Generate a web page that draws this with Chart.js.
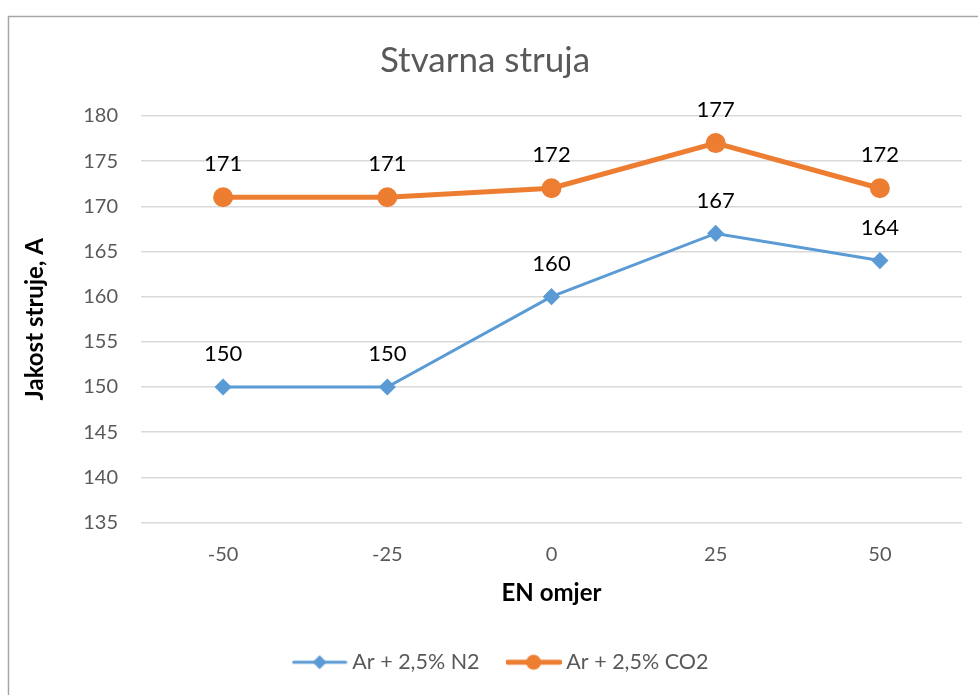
<!DOCTYPE html>
<html>
<head>
<meta charset="utf-8">
<script src="https://cdn.jsdelivr.net/npm/chart.js@4"></script>
<style>
  html, body { margin: 0; padding: 0; background: #fff; }
  #wrap { width: 978px; height: 695px; position: relative; }
</style>
</head>
<body>
<div id="wrap"><canvas id="chart"></canvas></div>
<script>
const categories = ['-50', '-25', '0', '25', '50'];
const n2Values = [150, 150, 160, 167, 164];
const co2Values = [171, 171, 172, 177, 172];
const yTicks = [135, 140, 145, 150, 155, 160, 165, 170, 175, 180];

const BLUE = '#5B9BD5';
const ORANGE = '#ED7D31';
const FONT = 'Lato, sans-serif';

// legend swatch: short line with the marker in the middle, like Excel
const makeSwatch = (color, lineW, marker) => {
  const c = document.createElement('canvas');
  c.width = 56; c.height = 20;
  const g = c.getContext('2d');
  g.strokeStyle = color;
  g.lineWidth = lineW;
  g.lineCap = 'round';
  g.beginPath(); g.moveTo(2, 10); g.lineTo(54, 10); g.stroke();
  g.fillStyle = color;
  g.beginPath();
  if (marker === 'diamond') {
    g.moveTo(28, 3); g.lineTo(35, 10); g.lineTo(28, 17); g.lineTo(21, 10);
  } else {
    g.arc(28, 10, 7.5, 0, Math.PI * 2);
  }
  g.closePath(); g.fill();
  return c;
};
const swatches = [makeSwatch(BLUE, 3, 'diamond'), makeSwatch(ORANGE, 5, 'circle')];

// frame of the chart object (only top and left edge are visible in the crop)
const framePlugin = {
  id: 'frame',
  beforeDraw(chart) {
    const ctx = chart.ctx;
    ctx.save();
    ctx.strokeStyle = '#A6A6A6';
    ctx.lineWidth = 1.5;
    ctx.beginPath();
    ctx.moveTo(978, 16.5);
    ctx.lineTo(8.5, 16.5);
    ctx.lineTo(8.5, 695);
    ctx.stroke();
    ctx.restore();
  },
  // excel centres the legend a bit to the right of the plot
  afterLayout(chart) {
    chart.legend.left += 36;
  }
};

// value labels above each point
const labelPlugin = {
  id: 'valueLabels',
  afterDatasetsDraw(chart) {
    const ctx = chart.ctx;
    ctx.save();
    ctx.font = '22px ' + FONT;
    ctx.fillStyle = '#000';
    ctx.textAlign = 'center';
    ctx.textBaseline = 'middle';
    chart.data.datasets.forEach((ds, i) => {
      chart.getDatasetMeta(i).data.forEach((pt, j) => {
        ctx.fillText(String(ds.data[j]), pt.x, pt.y - 33);
      });
    });
    ctx.restore();
  }
};

new Chart(document.getElementById('chart'), {
  type: 'line',
  data: {
    labels: categories,
    datasets: [
      {
        label: 'Ar + 2,5% N2',
        data: n2Values,
        borderColor: BLUE,
        backgroundColor: BLUE,
        borderWidth: 3,
        pointStyle: 'rectRot',
        pointRadius: 6.5,
        pointHoverRadius: 6.5,
        tension: 0
      },
      {
        label: 'Ar + 2,5% CO2',
        data: co2Values,
        borderColor: ORANGE,
        backgroundColor: ORANGE,
        borderWidth: 5,
        pointStyle: 'circle',
        pointRadius: 7.5,
        pointHoverRadius: 7.5,
        tension: 0
      }
    ]
  },
  options: {
    responsive: true,
    maintainAspectRatio: false,
    animation: false,
    layout: { padding: { top: 16, left: 8, right: 16, bottom: 12 } },
    scales: {
      x: {
        offset: true,
        grid: { display: false, drawTicks: false },
        border: { display: false },
        ticks: { color: '#595959', font: { family: FONT, size: 20 }, padding: 20 },
        title: {
          display: true,
          text: 'EN omjer',
          color: '#000',
          font: { family: FONT, size: 24, weight: 'bold' },
          padding: { top: 0, bottom: 12 }
        },
        afterFit: (axis) => { axis.height = 97; }
      },
      y: {
        min: 135,
        max: 180,
        afterBuildTicks: (axis) => { axis.ticks = yTicks.map(v => ({ value: v })); },
        grid: { color: '#D9D9D9', lineWidth: 1.5, drawTicks: false },
        border: { display: false },
        ticks: { color: '#595959', font: { family: FONT, size: 20 }, padding: 23 },
        title: {
          display: true,
          text: 'Jakost struje, A',
          color: '#000',
          font: { family: FONT, size: 24, weight: 'bold' },
          padding: { top: 13, bottom: 0 }
        },
        afterFit: (axis) => { axis.width = 133; }
      }
    },
    plugins: {
      title: {
        display: true,
        text: 'Stvarna struja',
        color: '#595959',
        font: { family: FONT, size: 35, weight: 'normal' },
        padding: { top: 24, bottom: 34 }
      },
      legend: {
        position: 'bottom',
        labels: {
          color: '#595959',
          font: { family: FONT, size: 21.5 },
          usePointStyle: true,
          pointStyleWidth: 44,
          padding: 32,
          generateLabels: (chart) => chart.data.datasets.map((ds, i) => ({
            text: ds.label,
            fontColor: '#595959',
            pointStyle: swatches[i],
            datasetIndex: i,
            hidden: false,
            lineWidth: 0
          }))
        }
      },
      tooltip: { enabled: false }
    }
  },
  plugins: [framePlugin, labelPlugin]
});
</script>
</body>
</html>
